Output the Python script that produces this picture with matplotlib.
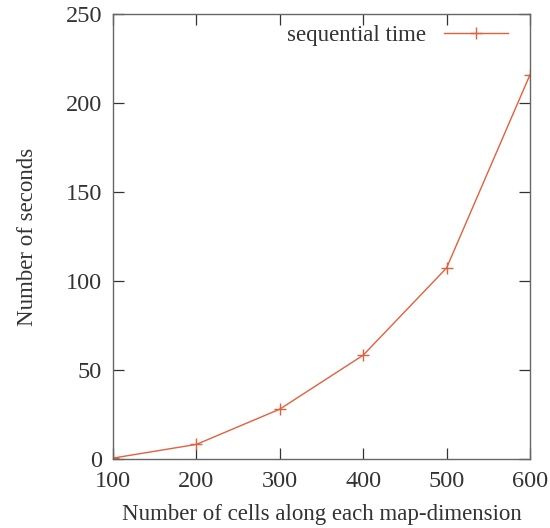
import matplotlib
matplotlib.use("Agg")
import matplotlib.pyplot as plt

# Data
cells = [100, 200, 300, 400, 500, 600]
seconds = [0.5, 8.2, 28, 58.3, 107.3, 215.8]

plt.rcParams['font.family'] = ['Liberation Serif', 'DejaVu Serif']

fig = plt.figure(figsize=(5.5, 5.28), dpi=100)
ax = fig.add_axes([0.2055, 0.1307, 0.758, 0.8428])

color = '#e2603c'
ax.plot(cells, seconds, color=color, linewidth=1.0, marker='+',
        markersize=8, markeredgewidth=1.0, label='sequential time')

ax.set_xlim(100, 600)
ax.set_ylim(0, 250)
ax.set_xticks([100, 200, 300, 400, 500, 600])
ax.set_yticks([0, 50, 100, 150, 200, 250])

ax.tick_params(direction='in', top=True, right=True, length=8, width=0.9,
               labelsize=17.5, colors='#333333')
ax.tick_params(axis='x', pad=9)
ax.tick_params(axis='y', pad=8)
for s in ax.spines.values():
    s.set_color('#666666')
    s.set_linewidth(1.0)

ax.set_xlabel('Number of cells along each map-dimension', fontsize=16.5,
              color='#333333', labelpad=8)
ax.set_ylabel('Number of seconds', fontsize=16.5, color='#333333', labelpad=20)

ax.legend(loc='upper right', frameon=False, markerfirst=False, fontsize=16.5,
          handlelength=2.8, borderaxespad=0.1, bbox_to_anchor=(0.975, 1.0),
          labelcolor='#333333')

fig.savefig('out.png', dpi=100)
